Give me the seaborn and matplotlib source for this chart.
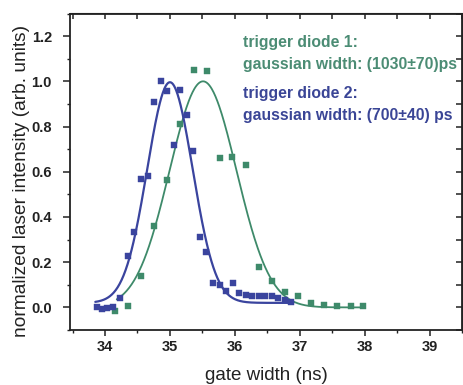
import numpy as np
import pandas as pd
import matplotlib
matplotlib.use("Agg")
import matplotlib.pyplot as plt
from matplotlib.ticker import MultipleLocator
import seaborn as sns

# Measured gate-width scans, trigger diode 2 (blue)
gate_diode2 = [33.87, 33.95, 34.03, 34.12, 34.23, 34.35, 34.45, 34.55, 34.66, 34.75,
               34.86, 34.96, 35.06, 35.16, 35.26, 35.36, 35.46, 35.56, 35.67, 35.77,
               35.87, 35.97, 36.07, 36.17, 36.27, 36.37, 36.47, 36.57, 36.67, 36.77, 36.87]
intensity_diode2 = [0.00, -0.007, -0.004, 0.003, 0.042, 0.226, 0.335, 0.568, 0.58, 0.91,
                    1.00, 0.956, 0.72, 0.963, 0.851, 0.693, 0.31, 0.246, 0.106, 0.10,
                    0.074, 0.11, 0.062, 0.055, 0.049, 0.049, 0.049, 0.049, 0.04, 0.032, 0.022]

# Measured gate-width scans, trigger diode 1 (green)
gate_diode1 = [34.15, 34.36, 34.55, 34.76, 34.96, 35.16, 35.37, 35.57, 35.77, 35.96,
               36.17, 36.37, 36.57, 36.77, 36.97, 37.17, 37.38, 37.58, 37.79, 37.98]
intensity_diode1 = [-0.015, 0.004, 0.137, 0.36, 0.565, 0.81, 1.05, 1.045, 0.66, 0.664,
                    0.63, 0.177, 0.115, 0.069, 0.049, 0.018, 0.012, 0.008, 0.004, 0.004]

# Gaussian fit parameters (Origin convention: y = y0 + A*exp(-2(x-xc)^2/w^2))
fit_diode1 = dict(xc=35.51, w=1.030, A=1.00, y0=0.0, xmin=34.18, xmax=38.0)
fit_diode2 = dict(xc=35.00, w=0.700, A=0.976, y0=0.02, xmin=33.85, xmax=36.9)

labels = ["trigger diode 1:\ngaussian width: (1030\u00b170)ps",
          "trigger diode 2:\ngaussian width: (700\u00b140) ps"]

blue = "#3a449e"
green = "#3e8a6a"
green_text = "#4b8c74"
blue_text = "#3a4596"

W, H = 463, 385


def gauss_curve(p):
    x = np.linspace(p["xmin"], p["xmax"], 400)
    y = p["y0"] + p["A"] * np.exp(-2.0 * (x - p["xc"]) ** 2 / p["w"] ** 2)
    return pd.DataFrame({"x": x, "y": y})


sns.set_style("ticks")
plt.rcParams["font.family"] = ["Liberation Sans", "DejaVu Sans"]

fig = plt.figure(figsize=(W / 100, H / 100), dpi=100)
ax = fig.add_axes([70 / W, 1 - 330 / H, 392 / W, (330 - 13.5) / H])

d2 = pd.DataFrame({"x": gate_diode2, "y": intensity_diode2})
d1 = pd.DataFrame({"x": gate_diode1, "y": intensity_diode1})

sns.lineplot(data=gauss_curve(fit_diode1), x="x", y="y", ax=ax, color=green, lw=1.3)
sns.lineplot(data=gauss_curve(fit_diode2), x="x", y="y", ax=ax, color=blue, lw=1.6)
sns.scatterplot(data=d1, x="x", y="y", ax=ax, marker="s", s=24, color=green,
                edgecolor=green, linewidth=0.3, zorder=3)
sns.scatterplot(data=d2, x="x", y="y", ax=ax, marker="s", s=24, color=blue,
                edgecolor=blue, linewidth=0.3, zorder=3)

ax.set_xlim(33.46, 39.5)
ax.set_ylim(-0.1, 1.3)
ax.set_xticks([34, 35, 36, 37, 38, 39])
ax.set_yticks([0.0, 0.2, 0.4, 0.6, 0.8, 1.0, 1.2])
ax.set_yticklabels(["0.0", "0.2", "0.4", "0.6", "0.8", "1.0", "1.2"])
ax.xaxis.set_minor_locator(MultipleLocator(0.5))
ax.yaxis.set_minor_locator(MultipleLocator(0.1))

for s in ax.spines.values():
    s.set_visible(True)
    s.set_linewidth(1.3)
    s.set_color("#222222")

ax.tick_params(axis="both", which="major", direction="out", length=4.5, width=1.1,
               labelsize=10.5, colors="#222222", pad=3)
ax.tick_params(axis="both", which="minor", direction="out", length=2.5, width=1.0,
               colors="#222222")
ax.tick_params(axis="y", which="major", length=5, pad=8)
for lab in ax.get_xticklabels() + ax.get_yticklabels():
    lab.set_fontweight("bold")

# inward ticks on top and right
top = ax.secondary_xaxis("top")
top.set_xticks(np.arange(33.5, 39.6, 0.5))
top.tick_params(direction="in", length=4, width=1.1, labeltop=False, colors="#222222")
right = ax.secondary_yaxis("right")
right.set_yticks(np.arange(-0.1, 1.31, 0.1))
right.tick_params(direction="in", length=4.5, width=1.1, labelright=False, colors="#222222")

ax.set_xlabel("gate width (ns)", fontsize=13.5, color="#222222", labelpad=9)
ax.set_ylabel("normalized laser intensity (arb. units)", fontsize=13.8, color="#222222")
ax.yaxis.set_label_coords(-0.102, 0.47)

fig.text(243 / W, 1 - 35.5 / H, labels[0], fontsize=11.3, color=green_text,
         fontweight="bold", va="top", linespacing=1.55)
fig.text(243 / W, 1 - 86 / H, labels[1], fontsize=11.3, color=blue_text,
         fontweight="bold", va="top", linespacing=1.55)

fig.savefig("out.png", dpi=100)
